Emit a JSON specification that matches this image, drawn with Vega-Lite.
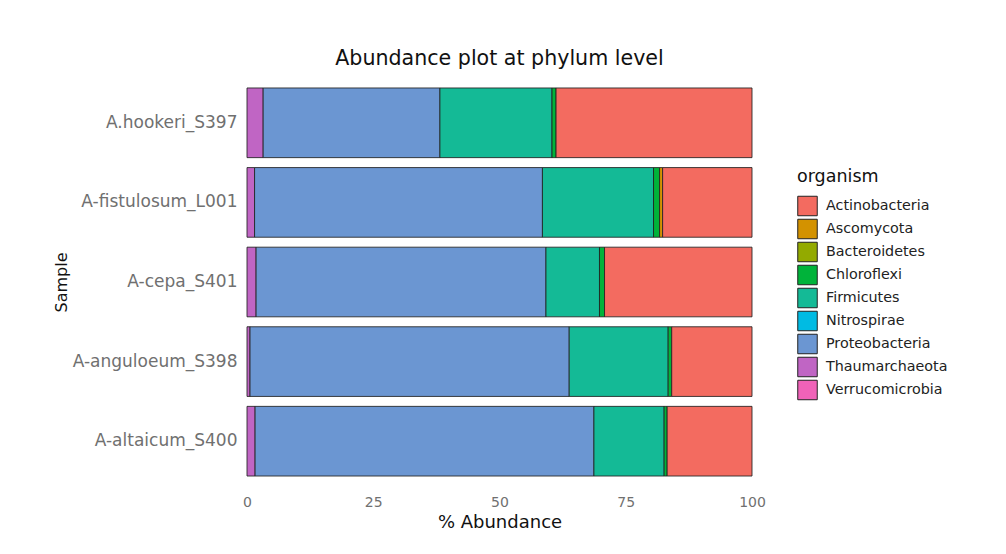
{
  "$schema": "https://vega.github.io/schema/vega-lite/v6.json",
  "autosize": {"type": "none"},
  "width": 505,
  "height": 396,
  "padding": {"left": 247, "top": 84, "right": 254, "bottom": 74},
  "background": "white",
  "title": {
    "text": "Abundance plot at phylum level",
    "fontSize": 20.6,
    "font": "DejaVu Sans",
    "fontWeight": "normal",
    "color": "#111111",
    "anchor": "middle",
    "offset": 14
  },
  "data": {
    "values": [
      {"Sample": "A.hookeri_S397", "organism": "Thaumarchaeota", "abundance": 3.2},
      {"Sample": "A.hookeri_S397", "organism": "Proteobacteria", "abundance": 35.0},
      {"Sample": "A.hookeri_S397", "organism": "Firmicutes", "abundance": 22.2},
      {"Sample": "A.hookeri_S397", "organism": "Chloroflexi", "abundance": 0.8},
      {"Sample": "A.hookeri_S397", "organism": "Actinobacteria", "abundance": 38.8},
      {"Sample": "A-fistulosum_L001", "organism": "Thaumarchaeota", "abundance": 1.5},
      {"Sample": "A-fistulosum_L001", "organism": "Proteobacteria", "abundance": 57.0},
      {"Sample": "A-fistulosum_L001", "organism": "Firmicutes", "abundance": 22.0},
      {"Sample": "A-fistulosum_L001", "organism": "Chloroflexi", "abundance": 1.2},
      {"Sample": "A-fistulosum_L001", "organism": "Ascomycota", "abundance": 0.6},
      {"Sample": "A-fistulosum_L001", "organism": "Actinobacteria", "abundance": 17.7},
      {"Sample": "A-cepa_S401", "organism": "Thaumarchaeota", "abundance": 1.8},
      {"Sample": "A-cepa_S401", "organism": "Proteobacteria", "abundance": 57.4},
      {"Sample": "A-cepa_S401", "organism": "Firmicutes", "abundance": 10.6},
      {"Sample": "A-cepa_S401", "organism": "Chloroflexi", "abundance": 1.0},
      {"Sample": "A-cepa_S401", "organism": "Actinobacteria", "abundance": 29.2},
      {"Sample": "A-anguloeum_S398", "organism": "Thaumarchaeota", "abundance": 0.6},
      {"Sample": "A-anguloeum_S398", "organism": "Proteobacteria", "abundance": 63.2},
      {"Sample": "A-anguloeum_S398", "organism": "Firmicutes", "abundance": 19.6},
      {"Sample": "A-anguloeum_S398", "organism": "Chloroflexi", "abundance": 0.7},
      {"Sample": "A-anguloeum_S398", "organism": "Actinobacteria", "abundance": 15.9},
      {"Sample": "A-altaicum_S400", "organism": "Thaumarchaeota", "abundance": 1.6},
      {"Sample": "A-altaicum_S400", "organism": "Proteobacteria", "abundance": 67.1},
      {"Sample": "A-altaicum_S400", "organism": "Firmicutes", "abundance": 13.9},
      {"Sample": "A-altaicum_S400", "organism": "Chloroflexi", "abundance": 0.6},
      {"Sample": "A-altaicum_S400", "organism": "Actinobacteria", "abundance": 16.8}
    ]
  },
  "mark": {"type": "bar", "stroke": "#222222", "strokeWidth": 1, "strokeOpacity": 0.85},
  "encoding": {
    "y": {
      "field": "Sample",
      "type": "nominal",
      "sort": ["A.hookeri_S397", "A-fistulosum_L001", "A-cepa_S401", "A-anguloeum_S398", "A-altaicum_S400"],
      "scale": {"paddingInner": 0.125, "paddingOuter": 0.05},
      "axis": {
        "title": "Sample",
        "titleFontSize": 16,
        "titleFont": "DejaVu Sans",
        "titleFontWeight": "normal",
        "titleColor": "#111111",
        "titlePadding": 3,
        "labelFontSize": 17,
        "labelFont": "DejaVu Sans",
        "labelColor": "#707070",
        "labelPadding": 10,
        "labelLimit": 300,
        "ticks": false,
        "domain": false,
        "grid": false
      }
    },
    "x": {
      "field": "abundance",
      "type": "quantitative",
      "stack": "zero",
      "scale": {"domain": [0, 100], "nice": false},
      "axis": {
        "title": "% Abundance",
        "values": [0, 25, 50, 75, 100],
        "titleFontSize": 18,
        "titleFont": "DejaVu Sans",
        "titleFontWeight": "normal",
        "titleColor": "#111111",
        "titlePadding": 4,
        "labelFontSize": 14,
        "labelFont": "DejaVu Sans",
        "labelColor": "#707070",
        "labelPadding": 15,
        "labelFlush": false,
        "ticks": false,
        "domain": false,
        "grid": false
      }
    },
    "color": {
      "field": "organism",
      "type": "nominal",
      "scale": {
        "domain": ["Actinobacteria", "Ascomycota", "Bacteroidetes", "Chloroflexi", "Firmicutes", "Nitrospirae", "Proteobacteria", "Thaumarchaeota", "Verrucomicrobia"],
        "range": ["#F36B60", "#D39200", "#93AA00", "#00B33A", "#14BA96", "#00BBE3", "#6B96D2", "#C065C4", "#F062B8"]
      },
      "legend": {
        "title": "organism",
        "orient": "none",
        "legendX": 550,
        "legendY": 84,
        "titleFontSize": 17.5,
        "titleFont": "DejaVu Sans",
        "titleFontWeight": "normal",
        "titleColor": "#111111",
        "titlePadding": 10,
        "labelFontSize": 14.3,
        "labelFont": "DejaVu Sans",
        "labelColor": "#222222",
        "labelOffset": 8,
        "symbolType": "square",
        "symbolSize": 380,
        "symbolStrokeColor": "#222222",
        "symbolStrokeWidth": 1,
        "symbolOpacity": 1,
        "rowPadding": -2
      }
    },
    "order": {"field": "organism", "sort": "descending"}
  },
  "config": {"view": {"stroke": null}}
}
